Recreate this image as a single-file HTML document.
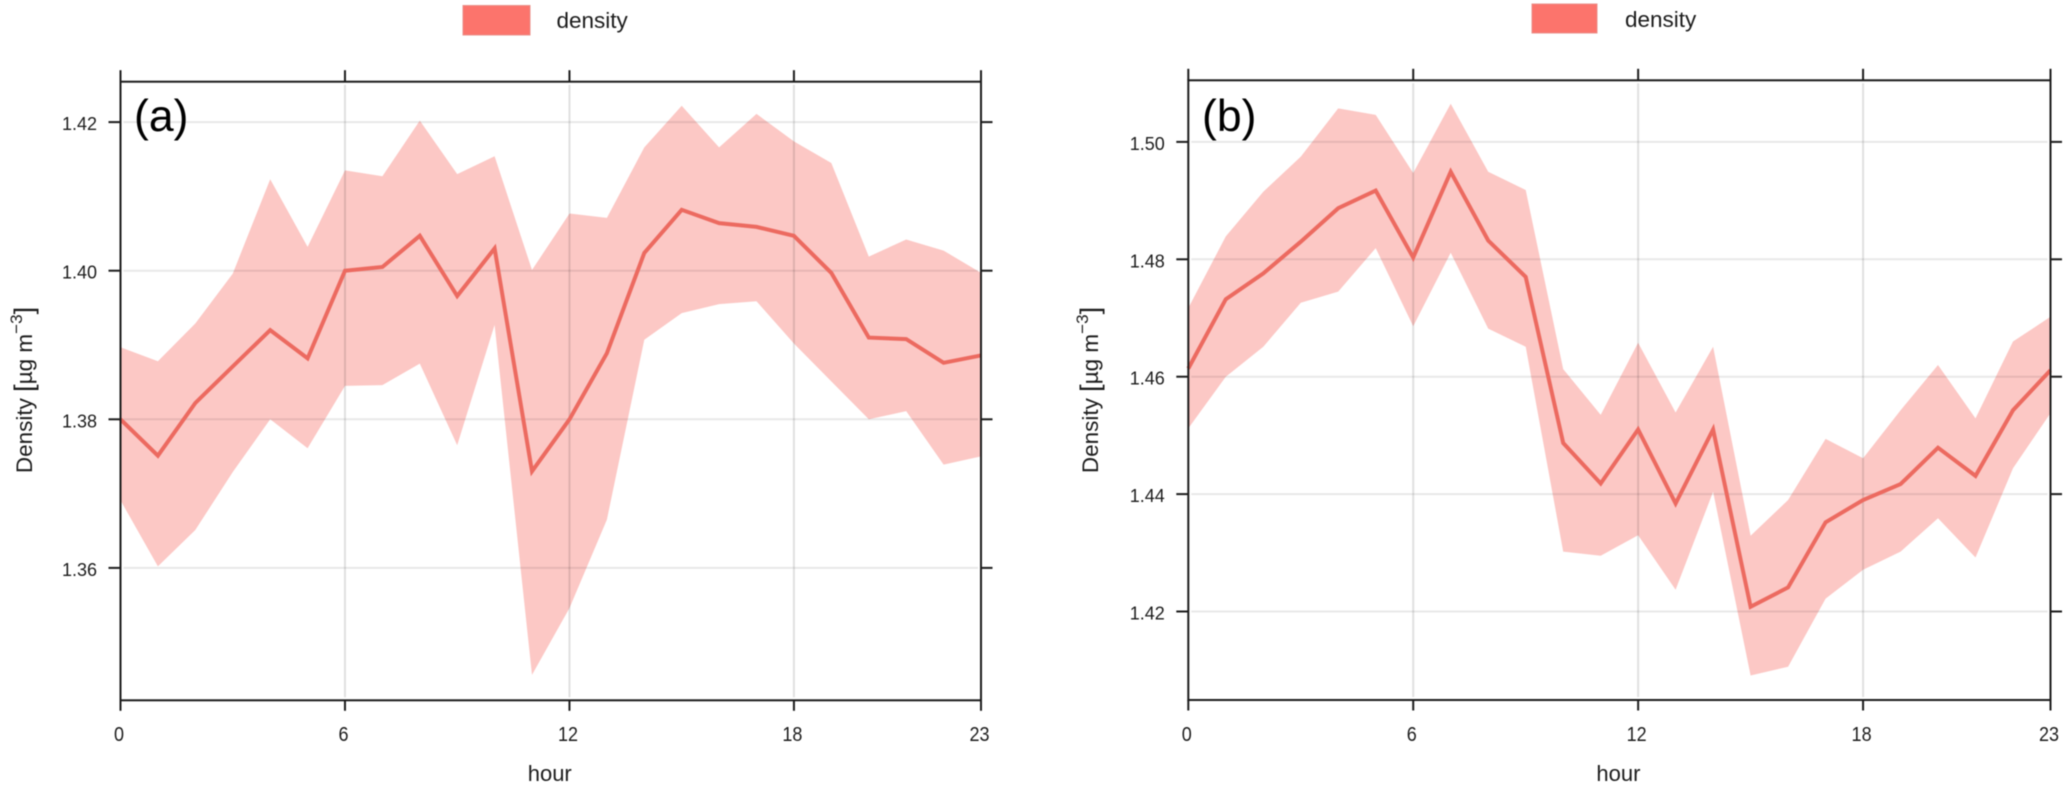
<!DOCTYPE html>
<html lang="en">
<head>
<meta charset="utf-8">
<title>Diurnal density profiles</title>
<style>
html,body{margin:0;padding:0;background:#fff;}
svg{display:block;font-family:"Liberation Sans",Arial,sans-serif;filter:blur(0.45px);}
</style>
</head>
<body>
<svg id="chart" xmlns="http://www.w3.org/2000/svg" width="2067" height="789" viewBox="0 0 2067 789"></svg>
<script>
const hours = [0,1,2,3,4,5,6,7,8,9,10,11,12,13,14,15,16,17,18,19,20,21,22,23];
const xTickLabels = [0,6,12,18,23];
const xGridHours = [6,12,18];

const meanA = [1.3800,1.3751,1.3822,1.3871,1.3920,1.3882,1.4000,1.4005,1.4047,1.3966,1.4030,1.3730,1.3800,1.3889,1.4024,1.4082,1.4064,1.4059,1.4047,1.3997,1.3910,1.3908,1.3876,1.3886];
const upperA = [1.3897,1.3878,1.3929,1.3996,1.4123,1.4032,1.4135,1.4127,1.4202,1.4130,1.4154,1.4001,1.4077,1.4071,1.4166,1.4222,1.4166,1.4211,1.4174,1.4145,1.4019,1.4042,1.4027,1.3997];
const lowerA = [1.3691,1.3602,1.3651,1.3729,1.3800,1.3761,1.3845,1.3846,1.3875,1.3765,1.3927,1.3456,1.3546,1.3665,1.3907,1.3943,1.3955,1.3959,1.3902,1.3851,1.3800,1.3811,1.3739,1.3750];
const yTicksA = ["1.36","1.38","1.40","1.42"];

const meanB = [1.4614,1.4732,1.4776,1.4830,1.4887,1.4917,1.4803,1.4949,1.4832,1.4770,1.4487,1.4418,1.4510,1.4384,1.4510,1.4208,1.4241,1.4352,1.4390,1.4417,1.4479,1.4431,1.4543,1.4611];
const upperB = [1.4717,1.4839,1.4915,1.4975,1.5057,1.5046,1.4947,1.5065,1.4949,1.4918,1.4613,1.4535,1.4658,1.4539,1.4651,1.4329,1.4390,1.4494,1.4461,1.4543,1.4620,1.4529,1.4660,1.4702];
const lowerB = [1.4512,1.4600,1.4651,1.4726,1.4745,1.4819,1.4686,1.4811,1.4682,1.4651,1.4302,1.4295,1.4330,1.4237,1.4404,1.4091,1.4106,1.4222,1.4271,1.4302,1.4359,1.4292,1.4444,1.4538];
const yTicksB = ["1.42","1.44","1.46","1.48","1.50"];

const NS = 'http://www.w3.org/2000/svg';
const svg = document.getElementById('chart');
const INK = '#1c1c1c';

function mk(parent, tag, attrs, text) {
  const e = document.createElementNS(NS, tag);
  for (const k in attrs) e.setAttribute(k, attrs[k]);
  if (text !== undefined) e.textContent = text;
  parent.appendChild(e);
  return e;
}

function drawPanel(p) {
  const g = mk(svg, 'g', {});
  
  

  const x = h => p.left + (h / 23) * (p.right - p.left);
  const y = v => p.refY - (v - p.refV) * p.pxPerUnit;

  // legend
  const swatch = mk(g, 'rect', {x:p.legX, y:p.legY, width:p.legW, height:p.legH, fill:'#fc746c', stroke:'#e9908a', 'stroke-width':1});
  
  
  const legText = mk(g, 'text', {x:p.legTextX, y:p.legTextY, 'font-size':22.5, fill:INK}, 'density');
  
  

  // band
  const bandPts = hours.map((h,i) => x(h).toFixed(1)+','+y(p.upper[i]).toFixed(1))
    .concat(hours.slice().reverse().map(h => x(h).toFixed(1)+','+y(p.lower[h]).toFixed(1)));
  const band = mk(g, 'polygon', {points:bandPts.join(' '), fill:'#f8766d', 'fill-opacity':0.4});
  
  

  // grid, drawn over the band so it darkens inside it
  p.yTicks.forEach(t => {
    const line = mk(g, 'line', {x1:p.left+3, x2:p.right-3, y1:y(+t), y2:y(+t), stroke:'#000', 'stroke-opacity':0.09, 'stroke-width':2});
    
    
  });
  xGridHours.forEach(h => {
    const line = mk(g, 'line', {x1:x(h), x2:x(h), y1:p.top+3, y2:p.bottom-3, stroke:'#000', 'stroke-opacity':0.12, 'stroke-width':2});
    
    
  });

  // mean line
  const linePts = hours.map((h,i) => x(h).toFixed(1)+','+y(p.mean[i]).toFixed(1)).join(' ');
  const meanLine = mk(g, 'polyline', {points:linePts, fill:'none', stroke:'#ec6a60', 'stroke-width':4, 'stroke-linejoin':'miter'});
  
  

  // frame
  const frame = mk(g, 'rect', {x:p.left, y:p.top, width:p.right-p.left, height:p.bottom-p.top, fill:'none', stroke:INK, 'stroke-width':2});
  
  

  // x ticks and labels
  xTickLabels.forEach(h => {
    const topTick = mk(g, 'line', {x1:x(h), x2:x(h), y1:p.top, y2:p.top-11.5, stroke:INK, 'stroke-width':2});
    
    
    const botTick = mk(g, 'line', {x1:x(h), x2:x(h), y1:p.bottom, y2:p.bottom+10.5, stroke:INK, 'stroke-width':2});
    
    
    const lab = mk(g, 'text', {transform:'translate('+(x(h)-1.5)+',741) scale(0.9,1)', 'font-size':20, 'text-anchor':'middle', fill:INK}, String(h));
    
    
  });

  // y ticks and labels
  p.yTicks.forEach(t => {
    const leftTick = mk(g, 'line', {x1:p.left, x2:p.left-12, y1:y(+t), y2:y(+t), stroke:INK, 'stroke-width':2});
    
    
    const rightTick = mk(g, 'line', {x1:p.right, x2:p.right+11.5, y1:y(+t), y2:y(+t), stroke:INK, 'stroke-width':2});
    
    
    const lab = mk(g, 'text', {x:p.left-23.5, y:y(+t)+8, 'font-size':18, 'text-anchor':'end', fill:INK}, t);
    
    
  });

  // axis titles
  const xTitle = mk(g, 'text', {x:(p.left+p.right)/2-1, y:781, 'font-size':22, 'text-anchor':'middle', fill:INK}, 'hour');
  
  

  const yTitle = mk(g, 'text', {transform:'translate('+p.yTitleX+',390) rotate(-90)', 'font-size':22.5, 'text-anchor':'middle', fill:INK});
  
  
  mk(yTitle, 'tspan', {}, 'Density ');
  mk(yTitle, 'tspan', {'font-size':27, dy:1}, '[');
  mk(yTitle, 'tspan', {dy:-1}, '\u00b5g m');
  mk(yTitle, 'tspan', {'font-size':17, dy:-10}, '\u22123');
  mk(yTitle, 'tspan', {'font-size':27, dy:11}, ']');

  // panel tag
  const tag = mk(g, 'text', {x:p.tagX, y:131, 'font-size':44.5, fill:'#000'}, p.tag);
  
  
}

drawPanel({
  id:'a', tag:'(a)', left:120.5, right:981, top:81.7, bottom:700.3,
  refV:1.40, refY:270.7, pxPerUnit:7430,
  mean:meanA, upper:upperA, lower:lowerA, yTicks:yTicksA,
  legX:463, legY:5.5, legW:67, legH:29.5, legTextX:556.5, legTextY:28,
  yTitleX:32, tagX:134
});
drawPanel({
  id:'b', tag:'(b)', left:1188.3, right:2050.5, top:80.3, bottom:700,
  refV:1.46, refY:376.7, pxPerUnit:5870,
  mean:meanB, upper:upperB, lower:lowerB, yTicks:yTicksB,
  legX:1532, legY:4, legW:65, legH:29, legTextX:1625, legTextY:27,
  yTitleX:1098, tagX:1202
});
</script>
</body>
</html>
